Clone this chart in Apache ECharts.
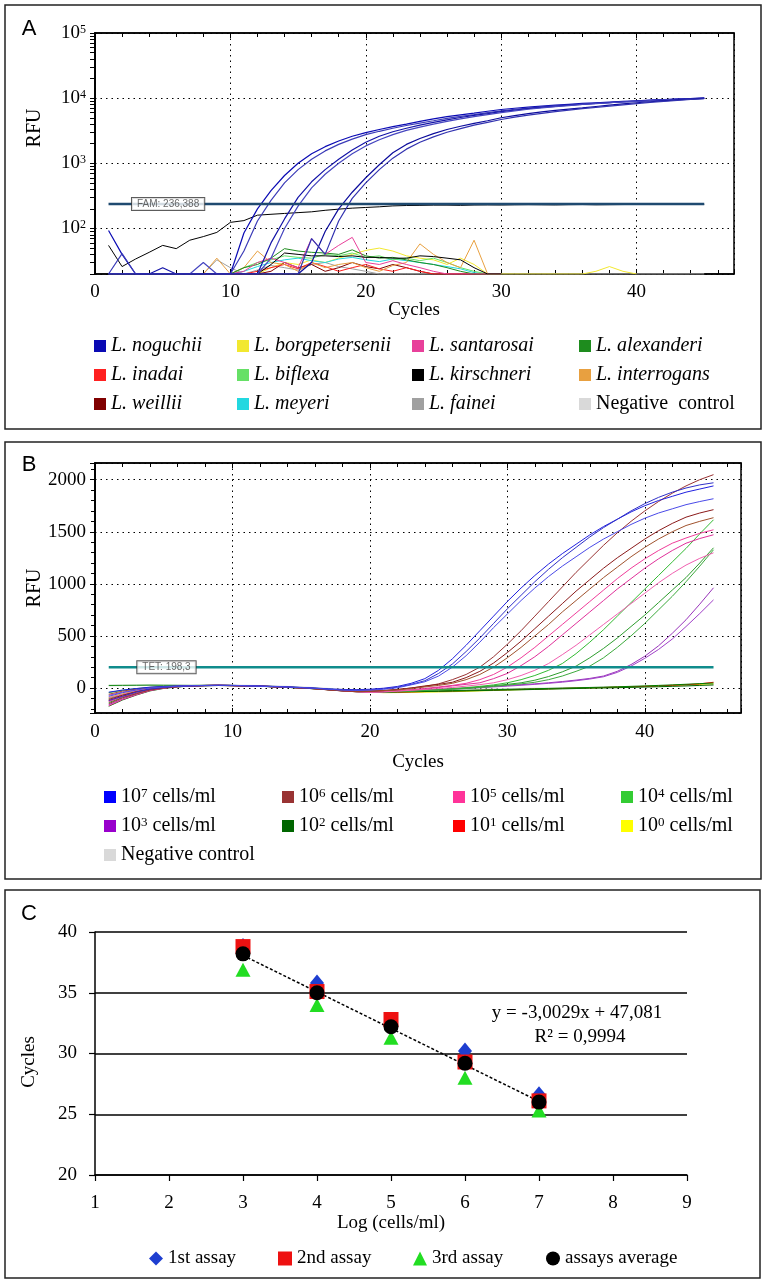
<!DOCTYPE html>
<html lang="en">
<head>
<meta charset="UTF-8">
<title>Leptospira real-time PCR</title>
<script src="https://cdn.jsdelivr.net/npm/echarts@6/dist/echarts.min.js"></script>
<style>
    body { margin: 0; background: #fff; }
    #chart { width: 767px; height: 1287px; }
</style>
</head>
<body>
<div id="chart"></div>
<script>
const SERIF = 'Liberation Serif';
const SANS = 'Liberation Sans';

// ---------- panel A (log RFU, species) ----------
// noguchii curves, one value per cycle from cycle 1
const noguchii = [
    [93,40,20,20,20,20,20,20,20,20, 85,200,380,650,1000,1400,1800,2200,2600,2950, 3300,3650,4000,4400,4800,5200,5550,5900,6300,6700, 7000,7300,7550,7800,8050,8300,8500,8700,8900,9100, 9300,9500,9700,9850,10000],
    [20,41,20,20,20,20,20,20,20,20, 45,130,270,500,800,1150,1550,1950,2350,2750, 3100,3450,3800,4150,4500,4900,5250,5600,6000,6400, 6750,7050,7350,7600,7850,8100,8350,8550,8750,8950, 9150,9350,9550,9750,9950],
    [20,20,20,20,25,20,20,20,20,20, 20,20,60,140,300,520,800,1150,1600,2100, 2600,3050,3450,3850,4250,4650,5050,5450,5800,6200, 6550,6900,7200,7500,7800,8050,8300,8550,8800,9000, 9250,9450,9650,9850,10050],
    [20,20,20,20,20,20,20,30,20,20, 20,20,35,100,220,420,680,1000,1400,1850, 2300,2750,3200,3600,4000,4400,4800,5200,5600,6000, 6400,6750,7100,7400,7700,8000,8250,8500,8750,8950, 9200,9400,9600,9800,10000],
    [20,20,20,20,20,20,20,20,20,20, 20,20,20,20,20,30,90,200,360,600, 950,1450,1950,2400,2850,3300,3700,4100,4500,5000, 5400,5800,6150,6500,6800,7100,7450,7800,8150,8500, 8800,9100,9400,9650,9900],
    [20,20,20,20,20,20,20,20,20,20, 20,20,20,20,20,70,40,130,290,500, 800,1200,1650,2100,2550,3000,3400,3850,4250,4700, 5100,5500,5850,6200,6550,6900,7200,7550,7900,8250, 8600,8950,9250,9550,9800]
];
const noguchiiColors = ['#0a0ab4', '#3c3cb8', '#1414a8', '#4646c0', '#0c0c9c', '#3232b0'];
const kirschneriRise = [55,26,34,43,55,49,66,75,87,124, 132,160,165,170,175,180,190,198,205,210, 215,222,225,226,228,228,226,229,230,229, 231,232,231,230,232,233,231,232,233,234, 233,234,235,235,235];
const negativeA = [20,20,20,20,20,20,20,20,20,20, 20,20,20,20,20,20,20,20,20,20, 20,20,20,20,20,20,20,20,20,20, 20,20,20,20,20,20,20,20,20,20, 20,20,20,20,20];
// background species, one value per cycle from cycle 8
const noiseStart = 8;
const borgpetersenii = [20,20,20,20,20,25,30,28,33,30, 35,40,46,50,45,38,35,33,28,35, 28,20,20,20,20,20,20,20,20,22, 26,22,20];
const santarosai = [20,20,20,22,30,35,30,25,70,40, 55,73,30,28,32,28,25,22,20,20, 20,20,20];
const alexanderi = [20,20,20,25,28,35,49,45,43,42, 40,47,38,35,36,33,30,28,25,22, 20,20,20];
const inadai = [20,20,20,20,22,25,28,24,30,26, 22,25,28,24,22,25,22,20,20,20, 20,20,20];
const biflexa = [20,20,20,25,30,33,38,36,35,40, 38,42,36,38,33,35,32,35,30,25, 22,20,20];
const interrogans = [20,35,20,25,45,30,28,22,30,25, 28,30,25,22,27,30,58,40,30,25, 66,20,20];
const weillii = [20,20,20,20,20,22,30,25,28,22, 25,30,26,24,28,25,22,20,20,20, 20,20,20];
const meyeri = [20,20,20,22,26,30,33,35,32,30, 34,36,33,31,34,32,30,28,26,24, 21,20,20];
const fainei = [20,33,25,20,23,27,25,23,28,30, 26,24,22,20,20,20,20,20,20,20, 20,20,20];
const kirschneriLow = [20,20,20,20,20,28,42,40,38,38, 37,38,36,36,35,35,38,37,35,33, 25,20,20];
const famThreshold = 236.388;
const thresholdCycles = [1, 45];
const famLabelCycle = 5.4;

// ---------- panel B (RFU, dilutions), one value per cycle from cycle 1 ----------
const b7 = [
    [-40,-20,-5,8,15,20,22,24,25,24, 22,20,16,12,6,0,-8,-14,-16,-12, -2,15,45,90,170,280,410,550,690,830, 960,1080,1190,1290,1380,1470,1550,1620,1690,1750, 1800,1840,1880,1910,1940],
    [-120,-80,-40,-10,5,15,20,22,24,23, 20,16,12,8,2,-4,-12,-18,-20,-16, -8,8,35,70,140,230,350,480,620,760, 890,1020,1140,1250,1350,1450,1540,1620,1700,1770, 1830,1880,1920,1950,1970],
    [-80,-45,-20,0,10,18,22,25,28,26, 22,18,14,10,4,-2,-12,-20,-24,-20, -12,2,30,60,115,200,310,440,580,710, 840,960,1070,1170,1260,1350,1430,1500,1570,1630, 1680,1720,1760,1790,1817]
];
const b6 = [
    [-150,-95,-55,-20,0,12,20,25,25,22, 20,18,12,8,2,-5,-15,-25,-30,-30, -25,-15,0,15,40,80,130,200,300,420, 550,690,830,970,1110,1240,1370,1490,1600,1700, 1790,1870,1940,2000,2048],
    [-110,-70,-35,-10,5,15,20,22,24,22, 20,16,12,6,0,-8,-18,-28,-32,-30, -24,-14,0,20,35,55,100,160,240,340, 450,570,690,810,930,1040,1150,1250,1340,1430, 1510,1580,1640,1680,1712],
    [-60,-30,-10,5,12,18,22,24,26,24, 22,18,14,8,2,-6,-16,-24,-30,-30, -26,-18,-6,10,25,45,80,130,200,290, 390,500,610,730,840,950,1060,1160,1260,1350, 1430,1500,1560,1600,1635]
];
const b5 = [
    [-170,-110,-65,-25,-2,12,20,24,25,24, 20,18,14,8,2,-4,-14,-24,-34,-38, -34,-26,-16,-4,10,25,45,80,130,200, 290,390,500,610,720,830,940,1050,1150,1240, 1320,1390,1440,1485,1519],
    [-130,-85,-45,-15,2,14,20,23,25,23, 20,17,12,7,1,-6,-16,-26,-34,-40, -36,-28,-20,-10,5,20,35,50,90,140, 215,300,400,510,620,730,840,950,1050,1150, 1240,1320,1390,1435,1471],
    [-95,-60,-28,-5,8,16,21,24,26,24, 21,18,13,8,2,-6,-16,-26,-36,-42, -38,-30,-22,-14,-5,5,18,32,50,80, 120,170,235,320,410,510,610,710,810,910, 1010,1100,1180,1245,1298]
];
const b4 = [
    [-45,-22,-6,6,14,20,22,24,25,24, 22,19,15,10,4,-2,-10,-20,-28,-34, -34,-30,-26,-20,-14,-6,4,16,30,50, 80,120,170,235,330,440,560,690,820,950, 1080,1210,1340,1480,1615],
    [-140,-90,-50,-18,0,12,19,22,24,22, 20,16,11,6,0,-7,-17,-27,-36,-42, -40,-36,-30,-24,-17,-10,-2,10,22,35, 50,75,110,155,210,290,380,480,590,700, 820,940,1060,1200,1346],
    [-100,-65,-32,-8,6,15,20,23,25,23, 20,17,12,7,1,-7,-17,-27,-35,-40, -38,-34,-29,-24,-18,-12,-5,5,15,28, 40,55,80,115,160,210,290,390,500,620, 750,880,1020,1170,1327]
];
const b3 = [
    [-160,-105,-60,-22,0,13,20,24,25,23, 20,17,12,7,1,-6,-16,-26,-35,-40, -36,-30,-24,-18,-12,-6,0,8,16,24, 32,40,50,62,76,92,115,160,225,305, 405,525,655,805,962],
    [-70,-40,-16,2,11,18,22,24,26,24, 21,18,13,8,2,-5,-15,-24,-32,-38, -36,-32,-27,-22,-16,-10,-4,3,10,18, 26,35,45,56,70,86,108,150,210,285, 370,470,590,715,846]
];
const b2 = [
    [-175,-115,-68,-28,-4,10,19,23,25,24, 21,18,13,8,2,-5,-15,-25,-34,-40, -40,-38,-36,-34,-32,-30,-28,-25,-22,-20, -17,-14,-11,-8,-5,-2,0,3,6,9, 12,16,20,25,30],
    [25,26,27,28,27,26,25,26,27,25, 22,18,12,6,0,-8,-16,-24,-30,-34, -34,-33,-31,-29,-27,-25,-22,-19,-16,-13, -10,-7,-4,-1,2,5,8,12,16,20, 25,30,36,42,48]
];
const b1 = [
    [-120,-78,-40,-12,4,14,21,24,26,24, 22,18,13,8,1,-7,-18,-28,-36,-42, -42,-40,-37,-34,-31,-28,-25,-22,-19,-16, -13,-10,-7,-4,-1,2,5,8,12,16, 20,26,32,40,55]
];
const b0 = [
    [-90,-55,-25,-3,9,16,21,24,25,24, 21,18,14,9,3,-4,-14,-24,-32,-38, -45,-44,-42,-40,-38,-35,-32,-28,-24,-20, -16,-12,-8,-5,-2,1,4,8,12,16, 20,25,30,35,40]
];
const bNegative = [
    [20,22,24,25,24,25,26,28,30,28, 26,24,20,16,10,4,-4,-12,-20,-24, -24,-22,-20,-18,-16,-14,-12,-10,-8,-6, -4,-2,0,2,4,6,8,10,12,14, 16,18,20,22,24]
];
const dilutionNames = ['10^7 cells/ml', '10^6 cells/ml', '10^5 cells/ml', '10^4 cells/ml',
                       '10^3 cells/ml', '10^2 cells/ml', '10^1 cells/ml', '10^0 cells/ml', 'Negative control'];
const tetThreshold = 198.3;
const tetLabelCycle = 5.2;

// ---------- panel C (standard curve) ----------
const logCells = [3, 4, 5, 6, 7];
const assay1 = [38.8, 35.8, 32.4, 30.2, 26.6];
const assay2 = [38.8, 35.1, 32.8, 29.3, 26.1];
const assay3 = [36.9, 34.0, 31.3, 28.0, 25.3];
const assayAvg = [38.2, 35.0, 32.2, 29.2, 26.0];
const fitSlope = -3.0029;
const fitIntercept = 47.081;

// ---------- helpers ----------
function pairs(values, start) {
    return values.map((v, i) => [start + i, v]);
}
function line(name, values, start, color, xi, yi, width) {
    return {
        name: name, type: 'line', xAxisIndex: xi, yAxisIndex: yi,
        data: pairs(values, start), symbol: 'none', color: color,
        lineStyle: { width: width || 1, color: color }, silent: true, animation: false
    };
}
function supLabel(base, exp) {
    return '{b|' + base + '}{s|' + exp + '}';
}
const richSup = {
    b: { fontFamily: SERIF, fontSize: 19, color: '#000' },
    s: { fontFamily: SERIF, fontSize: 12, color: '#000', verticalAlign: 'top' }
};
const dotted = { type: [1.5, 4], color: '#000', width: 1 };

// minor log ticks 20..90, 200..900, ... for the frame
const logTicks = [];
for (let d = 10; d <= 10000; d *= 10) {
    for (let k = 1; k <= 9; k++) {
        if (k * d >= 20) logTicks.push(k * d);
    }
}
logTicks.push(100000);

// ---------- series ----------
const series = [];
// panel A
series.push(line('Negative control A', negativeA, 1, '#d9d9d9', 0, 0));
const speciesNoise = [
    ['L. borgpetersenii', borgpetersenii, '#f2e830'],
    ['L. fainei', fainei, '#a0a0a0'],
    ['L. weillii', weillii, '#800000'],
    ['L. meyeri', meyeri, '#22d8e0'],
    ['L. biflexa', biflexa, '#66e066'],
    ['L. inadai', inadai, '#ff2020'],
    ['L. interrogans', interrogans, '#e8a040'],
    ['L. alexanderi', alexanderi, '#1e8c1e'],
    ['L. santarosai', santarosai, '#e8409a']
];
speciesNoise.forEach(s => series.push(line(s[0], s[1], noiseStart, s[2], 0, 0)));
series.push(line('L. kirschneri', kirschneriLow, noiseStart, '#000000', 0, 0));
series.push(line('L. kirschneri', kirschneriRise, 1, '#000000', 0, 0));
noguchii.forEach((vals, i) => series.push(line('L. noguchii', vals, 1, noguchiiColors[i], 0, 0, 1.2)));
series.push({
    name: 'FAM threshold', type: 'line', xAxisIndex: 0, yAxisIndex: 0, symbol: 'none',
    data: thresholdCycles.map(c => [c, famThreshold]),
    lineStyle: { color: '#1f4a70', width: 2.5 }, silent: true
});
series.push({
    name: 'FAM label', type: 'scatter', xAxisIndex: 0, yAxisIndex: 0, symbolSize: 0,
    data: [[famLabelCycle, famThreshold]], silent: true, z: 5,
    label: {
        show: true, position: 'inside', formatter: 'FAM: 236,388',
        fontFamily: SANS, fontSize: 10, color: '#444',
        backgroundColor: '#fff', borderColor: '#333', borderWidth: 1, padding: [1, 5]
    }
});

// panel B
const bGroups = [
    [dilutionNames[8], bNegative, ['#d9d9d9']],
    [dilutionNames[7], b0, ['#e6e600']],
    [dilutionNames[6], b1, ['#ff0000']],
    [dilutionNames[5], b2, ['#006600', '#008000']],
    [dilutionNames[4], b3, ['#9933bb', '#a040c8']],
    [dilutionNames[3], b4, ['#33bb33', '#2e9e2e', '#3caa3c']],
    [dilutionNames[2], b5, ['#f03c9a', '#e0309a', '#f060b0']],
    [dilutionNames[1], b6, ['#993333', '#8b1a1a', '#a0522d']],
    [dilutionNames[0], b7, ['#2020e0', '#3030c8', '#4a4ae8']]
];
const bLegendColors = {
    '10^7 cells/ml': '#0000ff', '10^6 cells/ml': '#993333', '10^5 cells/ml': '#ff3399',
    '10^4 cells/ml': '#33cc33', '10^3 cells/ml': '#9900cc', '10^2 cells/ml': '#006600',
    '10^1 cells/ml': '#ff0000', '10^0 cells/ml': '#ffff00', 'Negative control': '#d9d9d9'
};
bGroups.forEach(g => {
    g[1].forEach((vals, i) => {
        const s = line(g[0], vals, 1, g[2][i % g[2].length], 2, 2);
        if (i === 0) s.itemStyle = { color: bLegendColors[g[0]] };
        series.push(s);
    });
});
series.push({
    name: 'TET threshold', type: 'line', xAxisIndex: 2, yAxisIndex: 2, symbol: 'none',
    data: thresholdCycles.map(c => [c, tetThreshold]),
    lineStyle: { color: '#108c8c', width: 2.5 }, silent: true
});
series.push({
    name: 'TET label', type: 'scatter', xAxisIndex: 2, yAxisIndex: 2, symbolSize: 0,
    data: [[tetLabelCycle, tetThreshold]], silent: true, z: 5,
    label: {
        show: true, position: 'inside', formatter: 'TET: 198,3',
        fontFamily: SANS, fontSize: 10, color: '#444',
        backgroundColor: '#fff', borderColor: '#333', borderWidth: 1, padding: [1, 5]
    }
});

// panel C
series.push({
    name: 'fit', type: 'line', xAxisIndex: 4, yAxisIndex: 4, symbol: 'none', silent: true,
    data: [logCells[0], logCells[logCells.length - 1]].map(x => [x, fitSlope * x + fitIntercept]),
    lineStyle: { color: '#000', width: 1.5, type: [3, 2] }, z: 3
});
series.push({
    name: '1st assay', type: 'scatter', xAxisIndex: 4, yAxisIndex: 4, symbol: 'diamond',
    symbolSize: [14, 17], data: logCells.map((x, i) => [x, assay1[i]]),
    itemStyle: { color: '#1e3ed0', opacity: 1 }, z: 2
});
series.push({
    name: '2nd assay', type: 'scatter', xAxisIndex: 4, yAxisIndex: 4, symbol: 'rect',
    symbolSize: 15, data: logCells.map((x, i) => [x, assay2[i]]),
    itemStyle: { color: '#ee1111', opacity: 1 }, z: 3
});
series.push({
    name: '3rd assay', type: 'scatter', xAxisIndex: 4, yAxisIndex: 4, symbol: 'triangle',
    symbolSize: [15, 14], data: logCells.map((x, i) => [x, assay3[i]]),
    itemStyle: { color: '#22dd22', opacity: 1 }, z: 3
});
series.push({
    name: 'assays average', type: 'scatter', xAxisIndex: 4, yAxisIndex: 4, symbol: 'circle',
    symbolSize: 15, data: logCells.map((x, i) => [x, assayAvg[i]]),
    itemStyle: { color: '#000', opacity: 1 }, z: 4
});

// ---------- axes ----------
const tickLabel = { fontFamily: SERIF, fontSize: 19, color: '#000' };
function cycleAxis(grid, pos, max, showLabels) {
    return {
        type: 'value', gridIndex: grid, position: pos, min: 0, max: max, interval: 10,
        axisLine: { onZero: false, lineStyle: { color: '#000', width: 1.5 } },
        axisTick: { show: true, inside: true, length: 5, lineStyle: { color: '#000' } },
        minorTick: { show: true, splitNumber: 5, length: 4, lineStyle: { color: '#000' } },
        axisLabel: Object.assign({ show: showLabels, margin: showLabels && grid === 1 ? 10 : 9, showMaxLabel: false }, tickLabel),
        splitLine: { show: showLabels, lineStyle: dotted }
    };
}
function plainNumber(v) {
    return String(v);
}

const legendA = {
    orient: 'vertical', icon: 'rect', itemWidth: 12, itemHeight: 12, itemGap: 9, top: 331,
    selectedMode: false,
    itemStyle: { borderWidth: 0 },
    textStyle: { fontFamily: SERIF, fontSize: 20, fontStyle: 'italic', color: '#000' }
};
const legendB = {
    orient: 'vertical', icon: 'rect', itemWidth: 12, itemHeight: 12, itemGap: 9, top: 782,
    selectedMode: false,
    itemStyle: { borderWidth: 0 },
    textStyle: { fontFamily: SERIF, fontSize: 20, color: '#000', rich: {
        b: { fontFamily: SERIF, fontSize: 20, color: '#000' },
        s: { fontFamily: SERIF, fontSize: 13, color: '#000', verticalAlign: 'top' }
    } },
    formatter: function (name) {
        const m = name.match(/^10\^(\d) (.*)$/);
        return m ? '{b|10}{s|' + m[1] + '}{b| ' + m[2] + '}' : name;
    }
};
const legendC = {
    orient: 'horizontal', itemWidth: 14, itemHeight: 14, top: 1244, selectedMode: false,
    itemStyle: { borderWidth: 0, opacity: 1 },
    textStyle: { fontFamily: SERIF, fontSize: 19, color: '#000' }
};

function text(x, y, str, size, font, rotation) {
    return {
        type: 'text', x: x, y: y, rotation: rotation || 0, silent: true,
        style: { text: str, fontSize: size, fontFamily: font || SERIF, fill: '#000',
                 align: 'center', verticalAlign: 'middle', textAlign: 'center', textVerticalAlign: 'middle' }
    };
}
function box(x, y, w, h) {
    return { type: 'rect', silent: true, shape: { x: x, y: y, width: w, height: h },
             style: { fill: 'none', stroke: '#222', lineWidth: 1.5 } };
}

const option = {
    animation: false,
    backgroundColor: '#fff',
    textStyle: { fontFamily: SERIF },
    grid: [
        { left: 95, top: 33, width: 639, height: 241, show: true, borderColor: '#000', borderWidth: 1.5, outerBoundsMode: 'none' },
        { left: 95, top: 463, width: 646, height: 250, show: true, borderColor: '#000', borderWidth: 1.5, outerBoundsMode: 'none' },
        { left: 95, top: 932, width: 592, height: 243, outerBoundsMode: 'none' }
    ],
    xAxis: [
        cycleAxis(0, 'bottom', 47.2, true),
        cycleAxis(0, 'top', 47.2, false),
        cycleAxis(1, 'bottom', 47, true),
        cycleAxis(1, 'top', 47, false),
        {
            type: 'value', gridIndex: 2, min: 1, max: 9, interval: 1,
            axisLine: { onZero: false, lineStyle: { color: '#000', width: 1.5 } },
            axisTick: { show: true, length: 6, lineStyle: { color: '#000', width: 1.2 } },
            axisLabel: Object.assign({ margin: 19 }, tickLabel),
            splitLine: { show: false }
        }
    ],
    yAxis: [
        {
            type: 'log', logBase: 10, gridIndex: 0, min: 20, max: 100000,
            axisLine: { show: true, lineStyle: { color: '#000', width: 1.5 } },
            axisTick: { show: true, length: 5, lineStyle: { color: '#000' } },
            axisLabel: {
                margin: 9, rich: richSup,
                formatter: function (v) {
                    const e = Math.round(Math.log10(v));
                    return Math.abs(Math.log10(v) - e) < 1e-6 ? supLabel(10, e) : '';
                }
            },
            splitLine: { show: true, lineStyle: dotted }
        },
        {
            type: 'log', logBase: 10, gridIndex: 0, min: 20, max: 100000, position: 'right',
            axisLine: { show: true, lineStyle: { color: '#000', width: 1.5 } },
            axisTick: { show: true, inside: true, length: 5, customValues: logTicks, lineStyle: { color: '#000' } },
            axisLabel: { show: false }, splitLine: { show: false }
        },
        {
            type: 'value', gridIndex: 1, min: -240, max: 2160, splitNumber: 5,
            axisLine: { show: true, lineStyle: { color: '#000', width: 1.5 } },
            axisTick: { show: true, length: 5, lineStyle: { color: '#000' } },
            minorTick: { show: true, splitNumber: 5, length: 4, lineStyle: { color: '#000' } },
            axisLabel: Object.assign({ margin: 9, showMinLabel: false, showMaxLabel: false, formatter: plainNumber }, tickLabel),
            splitLine: { show: true, lineStyle: dotted }
        },
        {
            type: 'value', gridIndex: 1, min: -240, max: 2160, splitNumber: 5, position: 'right',
            axisLine: { show: true, lineStyle: { color: '#000', width: 1.5 } },
            axisTick: { show: true, inside: true, length: 5, lineStyle: { color: '#000' } },
            minorTick: { show: true, splitNumber: 5, length: 4, lineStyle: { color: '#000' } },
            axisLabel: { show: false }, splitLine: { show: false }
        },
        {
            type: 'value', gridIndex: 2, min: 20, max: 40, interval: 5,
            axisLine: { show: true, lineStyle: { color: '#000', width: 1.5 } },
            axisTick: { show: true, length: 6, lineStyle: { color: '#000', width: 1.2 } },
            axisLabel: Object.assign({ margin: 18 }, tickLabel),
            splitLine: { show: true, lineStyle: { color: '#000', width: 1.5 } }
        },
        {
            // minor log ticks on the left frame of panel A
            type: 'log', logBase: 10, gridIndex: 0, min: 20, max: 100000, position: 'left',
            axisLine: { show: false },
            axisTick: { show: true, length: 5, customValues: logTicks, lineStyle: { color: '#000' } },
            axisLabel: { show: false }, splitLine: { show: false }
        }
    ],
    legend: [
        Object.assign({ left: 89, data: ['L. noguchii', 'L. inadai', 'L. weillii'] }, legendA),
        Object.assign({ left: 232, data: ['L. borgpetersenii', 'L. biflexa', 'L. meyeri'] }, legendA),
        Object.assign({ left: 407, data: ['L. santarosai', 'L. kirschneri', 'L. fainei'] }, legendA),
        Object.assign({ left: 574, data: ['L. alexanderi', 'L. interrogans', 'Negative control A'] }, legendA,
            { formatter: n => n === 'Negative control A' ? '{n|Negative  control}' : n,
              textStyle: Object.assign({}, legendA.textStyle, { rich: { n: { fontFamily: SERIF, fontSize: 20, fontStyle: 'normal', color: '#000' } } }) }),
        Object.assign({ left: 99, data: [dilutionNames[0], dilutionNames[4], dilutionNames[8]] }, legendB),
        Object.assign({ left: 277, data: [dilutionNames[1], dilutionNames[5]] }, legendB),
        Object.assign({ left: 448, data: [dilutionNames[2], dilutionNames[6]] }, legendB),
        Object.assign({ left: 616, data: [dilutionNames[3], dilutionNames[7]] }, legendB),
        Object.assign({ left: 144, data: ['1st assay'] }, legendC),
        Object.assign({ left: 273, data: ['2nd assay'] }, legendC),
        Object.assign({ left: 408, data: ['3rd assay'] }, legendC),
        Object.assign({ left: 541, data: ['assays average'] }, legendC)
    ],
    graphic: [
        box(5, 5, 756, 424),
        box(5, 442, 756, 437),
        box(5, 890, 755, 388),
        text(29, 29, 'A', 22, SANS),
        text(29, 465, 'B', 22, SANS),
        text(29, 914, 'C', 22, SANS),
        text(35, 128, 'RFU', 20, SERIF, Math.PI / 2),
        text(35, 588, 'RFU', 20, SERIF, Math.PI / 2),
        text(29, 1062, 'Cycles', 19, SERIF, Math.PI / 2),
        text(414, 310, 'Cycles', 19),
        text(418, 762, 'Cycles', 19),
        text(391, 1223, 'Log (cells/ml)', 19),
        text(577, 1013, 'y = -3,0029x + 47,081', 19),
        text(580, 1037, 'R² = 0,9994', 19)
    ],
    series: series
};

const chart = echarts.init(document.getElementById('chart'), null, { renderer: 'canvas' });
chart.setOption(option);
</script>
</body>
</html>
